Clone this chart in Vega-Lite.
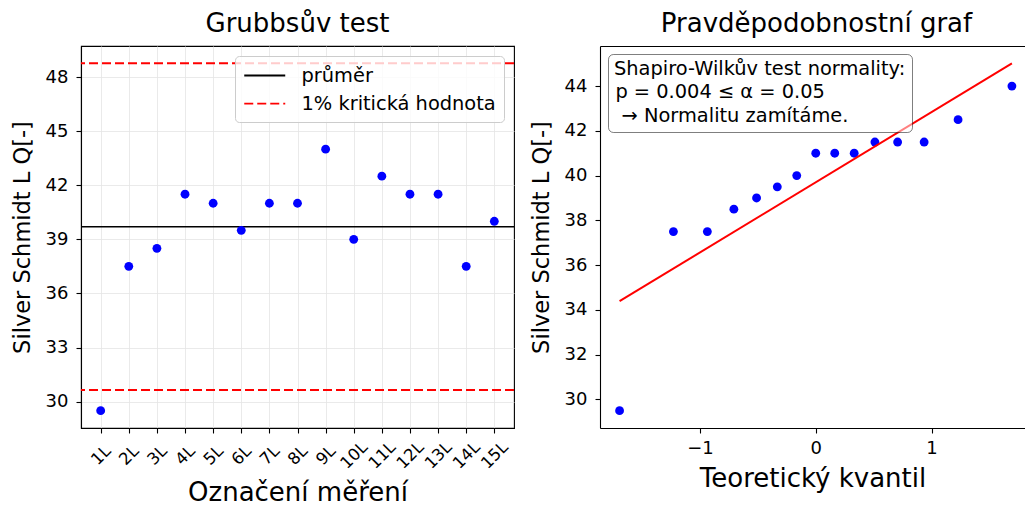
{
  "$schema": "https://vega.github.io/schema/vega-lite/v6.json",
  "background": "white",
  "padding": {"left": 10, "top": 10, "right": 0, "bottom": 0},
  "spacing": 14,
  "config": {
    "font": "DejaVu Sans",
    "view": {"stroke": "black", "strokeWidth": 1.1},
    "axis": {
      "domainColor": "black", "domainWidth": 1.1,
      "tickColor": "black", "tickWidth": 1.1, "tickSize": 5,
      "labelColor": "black", "labelFontSize": 18, "labelPadding": 8,
      "titleColor": "black", "titleFontSize": 22.5, "titleFontWeight": "normal",
      "gridColor": "#e4e4e4", "gridWidth": 0.8
    },
    "title": {"fontSize": 26, "fontWeight": "normal", "color": "black", "offset": 9, "frame": "group"}
  },
  "datasets": {
    "mereni": [
      {"label": "1L", "value": 29.5},
      {"label": "2L", "value": 37.5},
      {"label": "3L", "value": 38.5},
      {"label": "4L", "value": 41.5},
      {"label": "5L", "value": 41.0},
      {"label": "6L", "value": 39.5},
      {"label": "7L", "value": 41.0},
      {"label": "8L", "value": 41.0},
      {"label": "9L", "value": 44.0},
      {"label": "10L", "value": 39.0},
      {"label": "11L", "value": 42.5},
      {"label": "12L", "value": 41.5},
      {"label": "13L", "value": 41.5},
      {"label": "14L", "value": 37.5},
      {"label": "15L", "value": 40.0}
    ],
    "hranice": [
      {"y": 39.7, "s": "průměr"},
      {"y": 48.76, "s": "1% kritická hodnota"},
      {"y": 30.64, "s": "1% kritická hodnota"}
    ],
    "kvantily": [
      {"q": -1.694, "v": 29.5},
      {"q": -1.229, "v": 37.5},
      {"q": -0.936, "v": 37.5},
      {"q": -0.707, "v": 38.5},
      {"q": -0.511, "v": 39.0},
      {"q": -0.332, "v": 39.5},
      {"q": -0.164, "v": 40.0},
      {"q": 0.0, "v": 41.0},
      {"q": 0.164, "v": 41.0},
      {"q": 0.332, "v": 41.0},
      {"q": 0.511, "v": 41.5},
      {"q": 0.707, "v": 41.5},
      {"q": 0.936, "v": 41.5},
      {"q": 1.229, "v": 42.5},
      {"q": 1.694, "v": 44.0}
    ],
    "fit": [
      {"q": -1.694, "v": 34.39},
      {"q": 1.694, "v": 45.01}
    ],
    "poznamka": [
      {"note": "p = 0.004 ≤ α = 0.05"},
      {"note": "\u200b\u00a0→ Normalitu zamítáme."}
    ]
  },
  "hconcat": [
    {
      "title": "Grubbsův test",
      "width": 433,
      "height": 382,
      "layer": [
        {
          "data": {"name": "hranice"},
          "mark": {"type": "rule"},
          "encoding": {
            "y": {
              "field": "y", "type": "quantitative",
              "scale": {"domain": [28.537, 49.72], "nice": false, "zero": false},
              "axis": {"values": [30, 33, 36, 39, 42, 45, 48], "title": "Silver Schmidt L Q[-]", "titlePadding": 11, "grid": true}
            },
            "color": {
              "field": "s", "type": "nominal",
              "scale": {"domain": ["průměr", "1% kritická hodnota"], "range": ["black", "red"]},
              "legend": {
                "title": null, "orient": "top-right", "offset": 10, "padding": 8,
                "symbolType": "M-1,0H3", "symbolSize": 420, "symbolStrokeWidth": 1.8,
                "labelOffset": 35.5, "rowPadding": 7.2, "labelFontSize": 19.4, "labelColor": "black",
                "labelLimit": 400, "strokeColor": "#cccccc", "fillColor": "rgba(255,255,255,0.8)",
                "cornerRadius": 4
              }
            },
            "strokeDash": {
              "field": "s", "type": "nominal",
              "scale": {"domain": ["průměr", "1% kritická hodnota"], "range": [[1, 0], [9, 4]]},
              "legend": {
                "title": null, "orient": "top-right", "offset": 10, "padding": 8,
                "symbolType": "M-1,0H3", "symbolSize": 420, "symbolStrokeWidth": 1.8,
                "labelOffset": 35.5, "rowPadding": 7.2, "labelFontSize": 19.4, "labelColor": "black",
                "labelLimit": 400, "strokeColor": "#cccccc", "fillColor": "rgba(255,255,255,0.8)",
                "cornerRadius": 4
              }
            },
            "strokeWidth": {
              "field": "s", "type": "nominal",
              "scale": {"domain": ["průměr", "1% kritická hodnota"], "range": [1.4, 2]},
              "legend": null
            }
          }
        },
        {
          "data": {"name": "mereni"},
          "mark": {"type": "circle", "color": "blue", "opacity": 1, "size": 78},
          "encoding": {
            "x": {
              "field": "label", "type": "nominal", "sort": null,
              "scale": {"type": "point", "padding": 0.7},
              "axis": {"title": "Označení měření", "titleFontSize": 26, "labelAngle": -45, "labelAlign": "center", "labelBaseline": "middle", "labelFontSize": 16.5, "labelPadding": 22, "titlePadding": 8, "grid": true}
            },
            "y": {"field": "value", "type": "quantitative"}
          }
        }
      ]
    },
    {
      "title": {"text": "Pravděpodobnostní graf", "dx": 4},
      "width": 425,
      "height": 382,
      "view": {"stroke": null},
      "layer": [
        {
          "data": {"name": "kvantily"},
          "mark": {"type": "circle", "color": "blue", "opacity": 1, "size": 78},
          "encoding": {
            "x": {
              "field": "q", "type": "quantitative",
              "scale": {"domain": [-1.863, 1.807], "nice": false, "zero": false},
              "axis": {"orient": "bottom", "values": [-1, 0, 1], "title": "Teoretický kvantil", "titleFontSize": 26, "labelPadding": 6, "titlePadding": 8, "grid": false}
            },
            "y": {
              "field": "v", "type": "quantitative",
              "scale": {"domain": [28.724, 45.79], "nice": false, "zero": false},
              "axis": {"values": [30, 32, 34, 36, 38, 40, 42, 44], "title": "Silver Schmidt L Q[-]", "titlePadding": 11, "grid": false}
            }
          }
        },
        {
          "data": {"name": "fit"},
          "mark": {"type": "line", "color": "red", "strokeWidth": 2, "clip": true},
          "encoding": {
            "x": {
              "field": "q", "type": "quantitative",
              "axis": {"orient": "top", "labels": false, "ticks": false, "title": null, "grid": false}
            },
            "y": {"field": "v", "type": "quantitative"}
          }
        },
        {
          "data": {"name": "poznamka"},
          "mark": {"type": "point", "opacity": 0},
          "encoding": {
            "shape": {
              "field": "note", "type": "nominal",
              "scale": {"domain": ["p = 0.004 ≤ α = 0.05", "\u200b\u00a0→ Normalitu zamítáme."]},
              "legend": {
                "title": "Shapiro-Wilkův test normality:", "orient": "top-left", "offset": 8, "padding": 6,
                "titleFontSize": 19.4, "titleFontWeight": "normal", "titleColor": "black", "titlePadding": 3,
                "titleLimit": 400, "labelLimit": 400,
                "labelFontSize": 19.4, "labelColor": "black", "labelOffset": -18,
                "symbolSize": 0.01, "symbolOpacity": 0, "symbolStrokeWidth": 0, "rowPadding": 2.6,
                "strokeColor": "rgba(0,0,0,0.5)", "fillColor": "rgba(255,255,255,0.5)", "cornerRadius": 5
              }
            }
          }
        }
      ],
      "resolve": {"axis": {"x": "independent"}}
    }
  ],
  "resolve": {"legend": {"color": "independent", "strokeDash": "independent", "shape": "independent"}}
}
